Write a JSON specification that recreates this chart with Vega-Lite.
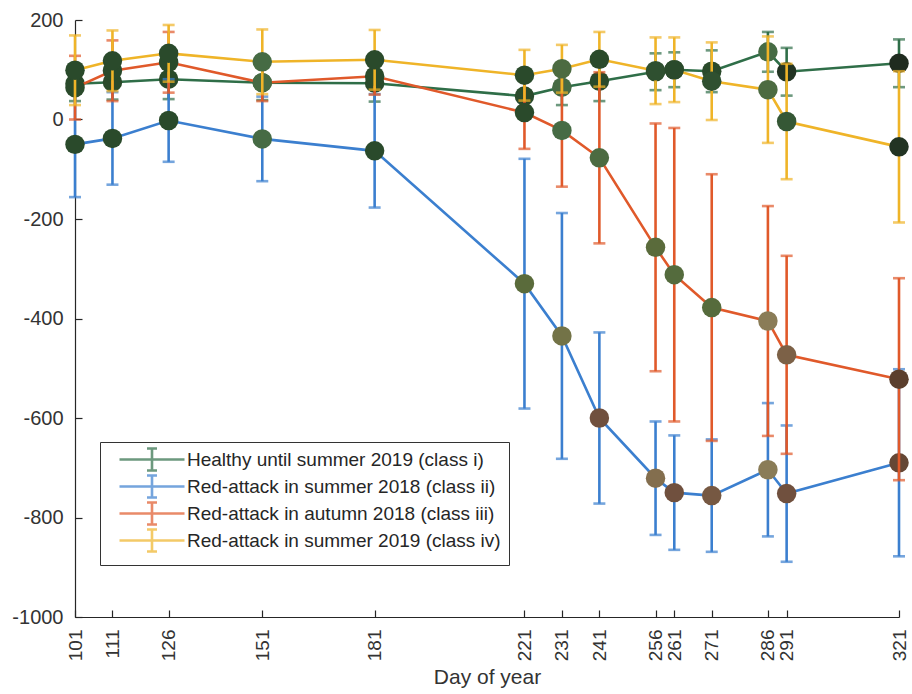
{
  "$schema": "https://vega.github.io/schema/vega-lite/v6.json",
  "width": 824,
  "height": 597,
  "autosize": {"type": "none"},
  "padding": {"left": 75, "top": 20, "right": 13, "bottom": 77},
  "background": "white",
  "config": {
    "view": {"stroke": null},
    "font": "Liberation Sans",
    "axis": {
      "grid": false,
      "domainColor": "#262626",
      "domainWidth": 1.2,
      "tickColor": "#262626",
      "tickWidth": 1.2,
      "tickSize": -7,
      "labelColor": "#333333",
      "labelFont": "Liberation Sans",
      "labelFontSize": 19,
      "labelOverlap": false,
      "labelBound": false,
      "labelFlush": false,
      "titleFont": "Liberation Sans",
      "titleFontSize": 21,
      "titleFontWeight": "normal",
      "titleColor": "#333333"
    }
  },
  "data": {
    "values": [
      {"series": "Healthy until summer 2019 (class i)", "day": 101, "mean": 72, "err": 35, "tone": 1},
      {"series": "Healthy until summer 2019 (class i)", "day": 111, "mean": 75, "err": 35, "tone": 1},
      {"series": "Healthy until summer 2019 (class i)", "day": 126, "mean": 81, "err": 40, "tone": 1},
      {"series": "Healthy until summer 2019 (class i)", "day": 151, "mean": 74, "err": 35, "tone": 2},
      {"series": "Healthy until summer 2019 (class i)", "day": 181, "mean": 73, "err": 37, "tone": 1},
      {"series": "Healthy until summer 2019 (class i)", "day": 221, "mean": 47, "err": 35, "tone": 1},
      {"series": "Healthy until summer 2019 (class i)", "day": 231, "mean": 65, "err": 36, "tone": 2},
      {"series": "Healthy until summer 2019 (class i)", "day": 241, "mean": 77, "err": 40, "tone": 1},
      {"series": "Healthy until summer 2019 (class i)", "day": 256, "mean": 96, "err": 37, "tone": 1},
      {"series": "Healthy until summer 2019 (class i)", "day": 261, "mean": 100, "err": 35, "tone": 1},
      {"series": "Healthy until summer 2019 (class i)", "day": 271, "mean": 97, "err": 42, "tone": 1},
      {"series": "Healthy until summer 2019 (class i)", "day": 286, "mean": 136, "err": 40, "tone": 2},
      {"series": "Healthy until summer 2019 (class i)", "day": 291, "mean": 96, "err": 48, "tone": 0.3},
      {"series": "Healthy until summer 2019 (class i)", "day": 321, "mean": 113, "err": 48, "tone": 0},
      {"series": "Red-attack in summer 2018 (class ii)", "day": 101, "mean": -50, "err": 106, "tone": 1},
      {"series": "Red-attack in summer 2018 (class ii)", "day": 111, "mean": -38, "err": 93, "tone": 1},
      {"series": "Red-attack in summer 2018 (class ii)", "day": 126, "mean": -2, "err": 83, "tone": 1},
      {"series": "Red-attack in summer 2018 (class ii)", "day": 151, "mean": -39, "err": 85, "tone": 2},
      {"series": "Red-attack in summer 2018 (class ii)", "day": 181, "mean": -63, "err": 114, "tone": 1},
      {"series": "Red-attack in summer 2018 (class ii)", "day": 221, "mean": -330, "err": 251, "tone": 3},
      {"series": "Red-attack in summer 2018 (class ii)", "day": 231, "mean": -435, "err": 247, "tone": 3.5},
      {"series": "Red-attack in summer 2018 (class ii)", "day": 241, "mean": -600, "err": 172, "tone": 5},
      {"series": "Red-attack in summer 2018 (class ii)", "day": 256, "mean": -721, "err": 114, "tone": 4.3},
      {"series": "Red-attack in summer 2018 (class ii)", "day": 261, "mean": -750, "err": 115, "tone": 5},
      {"series": "Red-attack in summer 2018 (class ii)", "day": 271, "mean": -756, "err": 113, "tone": 4.8},
      {"series": "Red-attack in summer 2018 (class ii)", "day": 286, "mean": -704, "err": 134, "tone": 4},
      {"series": "Red-attack in summer 2018 (class ii)", "day": 291, "mean": -752, "err": 137, "tone": 5},
      {"series": "Red-attack in summer 2018 (class ii)", "day": 321, "mean": -690, "err": 188, "tone": 5.5},
      {"series": "Red-attack in autumn 2018 (class iii)", "day": 101, "mean": 64, "err": 64, "tone": 1},
      {"series": "Red-attack in autumn 2018 (class iii)", "day": 111, "mean": 98, "err": 61, "tone": 1},
      {"series": "Red-attack in autumn 2018 (class iii)", "day": 126, "mean": 115, "err": 61, "tone": 1},
      {"series": "Red-attack in autumn 2018 (class iii)", "day": 151, "mean": 74, "err": 37, "tone": 2},
      {"series": "Red-attack in autumn 2018 (class iii)", "day": 181, "mean": 87, "err": 37, "tone": 1},
      {"series": "Red-attack in autumn 2018 (class iii)", "day": 221, "mean": 14, "err": 73, "tone": 1},
      {"series": "Red-attack in autumn 2018 (class iii)", "day": 231, "mean": -22, "err": 113, "tone": 2},
      {"series": "Red-attack in autumn 2018 (class iii)", "day": 241, "mean": -77, "err": 172, "tone": 2.3},
      {"series": "Red-attack in autumn 2018 (class iii)", "day": 256, "mean": -257, "err": 249, "tone": 3},
      {"series": "Red-attack in autumn 2018 (class iii)", "day": 261, "mean": -312, "err": 295, "tone": 2.7},
      {"series": "Red-attack in autumn 2018 (class iii)", "day": 271, "mean": -378, "err": 268, "tone": 2.8},
      {"series": "Red-attack in autumn 2018 (class iii)", "day": 286, "mean": -405, "err": 231, "tone": 4},
      {"series": "Red-attack in autumn 2018 (class iii)", "day": 291, "mean": -473, "err": 199, "tone": 4.6},
      {"series": "Red-attack in autumn 2018 (class iii)", "day": 321, "mean": -522, "err": 203, "tone": 6},
      {"series": "Red-attack in summer 2019 (class iv)", "day": 101, "mean": 99, "err": 70, "tone": 1},
      {"series": "Red-attack in summer 2019 (class iv)", "day": 111, "mean": 118, "err": 61, "tone": 1},
      {"series": "Red-attack in summer 2019 (class iv)", "day": 126, "mean": 133, "err": 57, "tone": 1},
      {"series": "Red-attack in summer 2019 (class iv)", "day": 151, "mean": 116, "err": 65, "tone": 2},
      {"series": "Red-attack in summer 2019 (class iv)", "day": 181, "mean": 120, "err": 60, "tone": 1},
      {"series": "Red-attack in summer 2019 (class iv)", "day": 221, "mean": 89, "err": 51, "tone": 1},
      {"series": "Red-attack in summer 2019 (class iv)", "day": 231, "mean": 102, "err": 48, "tone": 2.3},
      {"series": "Red-attack in summer 2019 (class iv)", "day": 241, "mean": 121, "err": 55, "tone": 1},
      {"series": "Red-attack in summer 2019 (class iv)", "day": 256, "mean": 98, "err": 67, "tone": 1.2},
      {"series": "Red-attack in summer 2019 (class iv)", "day": 261, "mean": 100, "err": 65, "tone": 1},
      {"series": "Red-attack in summer 2019 (class iv)", "day": 271, "mean": 77, "err": 78, "tone": 1.2},
      {"series": "Red-attack in summer 2019 (class iv)", "day": 286, "mean": 60, "err": 107, "tone": 2.3},
      {"series": "Red-attack in summer 2019 (class iv)", "day": 291, "mean": -4, "err": 116, "tone": 1.4},
      {"series": "Red-attack in summer 2019 (class iv)", "day": 321, "mean": -55, "err": 152, "tone": 0.3}
    ]
  },
  "encoding": {
    "x": {
      "field": "day",
      "type": "quantitative",
      "scale": {"domain": [101, 321], "nice": false, "zero": false},
      "axis": {
        "values": [101, 111, 126, 151, 181, 221, 231, 241, 256, 261, 271, 286, 291, 321],
        "labelAngle": -90,
        "labelPadding": 19,
        "title": "Day of year",
        "titlePadding": 6
      }
    },
    "y": {
      "field": "mean",
      "type": "quantitative",
      "scale": {"domain": [-1000, 200], "nice": false, "zero": false},
      "axis": {
        "values": [-1000, -800, -600, -400, -200, 0, 200],
        "labelExpr": "'' + datum.value",
        "labelFontSize": 20,
        "labelPadding": 19,
        "title": null
      }
    }
  },
  "layer": [
    {
      "transform": [{"filter": {"field": "series", "equal": "Healthy until summer 2019 (class i)"}}],
      "layer": [
        {"mark": {"type": "line", "strokeWidth": 2.6}, "encoding": {"color": {"field": "series", "type": "nominal"}}},
        {"mark": {"type": "errorbar", "ticks": {"size": 12}, "thickness": 2.6}, "encoding": {"yError": {"field": "err"}, "color": {"field": "series", "type": "nominal"}}},
        {"mark": {"type": "circle", "size": 380, "opacity": 1}, "encoding": {"fill": {"field": "tone", "type": "quantitative", "legend": null}}}
      ]
    },
    {
      "transform": [{"filter": {"field": "series", "equal": "Red-attack in summer 2018 (class ii)"}}],
      "layer": [
        {"mark": {"type": "line", "strokeWidth": 2.6}, "encoding": {"color": {"field": "series", "type": "nominal"}}},
        {"mark": {"type": "errorbar", "ticks": {"size": 12}, "thickness": 2.6}, "encoding": {"yError": {"field": "err"}, "color": {"field": "series", "type": "nominal"}}},
        {"mark": {"type": "circle", "size": 380, "opacity": 1}, "encoding": {"fill": {"field": "tone", "type": "quantitative", "legend": null}}}
      ]
    },
    {
      "transform": [{"filter": {"field": "series", "equal": "Red-attack in autumn 2018 (class iii)"}}],
      "layer": [
        {"mark": {"type": "line", "strokeWidth": 2.6}, "encoding": {"color": {"field": "series", "type": "nominal"}}},
        {"mark": {"type": "errorbar", "ticks": {"size": 12}, "thickness": 2.6}, "encoding": {"yError": {"field": "err"}, "color": {"field": "series", "type": "nominal"}}},
        {"mark": {"type": "circle", "size": 380, "opacity": 1}, "encoding": {"fill": {"field": "tone", "type": "quantitative", "legend": null}}}
      ]
    },
    {
      "transform": [{"filter": {"field": "series", "equal": "Red-attack in summer 2019 (class iv)"}}],
      "layer": [
        {
          "mark": {"type": "line", "strokeWidth": 2.6},
          "encoding": {
            "color": {
              "field": "series",
              "type": "nominal",
              "scale": {
                "domain": [
                  "Healthy until summer 2019 (class i)",
                  "Red-attack in summer 2018 (class ii)",
                  "Red-attack in autumn 2018 (class iii)",
                  "Red-attack in summer 2019 (class iv)"
                ],
                "range": ["#2f6e48", "#3b7fcf", "#e0592a", "#efb428"]
              },
              "legend": {
                "orient": "none",
                "legendX": 25,
                "legendY": 422,
                "title": null,
                "symbolType": "M-6.5,0H6.5M0,-2.2V2.2M-1,-2.2H1M-1,2.2H1",
                "symbolSize": 100,
                "symbolStrokeWidth": 2.6,
                "symbolOffset": 34.5,
                "labelOffset": 25.5,
                "labelFontSize": 19,
                "labelColor": "#262626",
                "labelLimit": 600,
                "rowPadding": -6,
                "padding": 8,
                "strokeColor": "#333333",
                "fillColor": "white"
              }
            }
          }
        },
        {"mark": {"type": "errorbar", "ticks": {"size": 12}, "thickness": 2.6}, "encoding": {"yError": {"field": "err"}, "color": {"field": "series", "type": "nominal"}}},
        {
          "mark": {"type": "circle", "size": 380, "opacity": 1},
          "encoding": {
            "fill": {
              "field": "tone",
              "type": "quantitative",
              "scale": {
                "type": "linear",
                "domain": [0, 1, 2, 3, 4, 5, 6],
                "range": ["#1f2b1f", "#2a4a2b", "#466b44", "#5a6b3b", "#8a7c57", "#70503e", "#5b3f2d"]
              },
              "legend": null
            }
          }
        }
      ]
    }
  ]
}
